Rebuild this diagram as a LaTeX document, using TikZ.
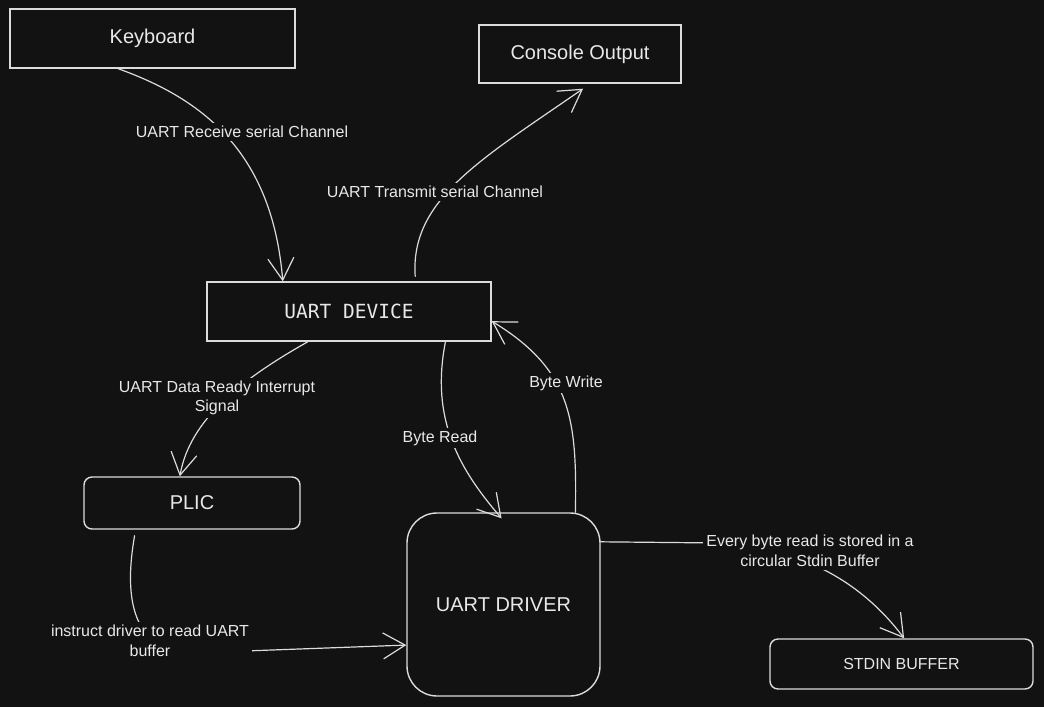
\documentclass[tikz,border=0pt]{standalone}
\usepackage{fontspec}
\setmainfont{Liberation Sans}
\newfontfamily\monofont{DejaVu Sans Mono}
\usetikzlibrary{arrows.meta,calc}
\definecolor{bg}{HTML}{121212}
\definecolor{ink}{HTML}{DCDCDC}
\definecolor{txt}{HTML}{E8E8E8}
\begin{document}
\begin{tikzpicture}[x=1pt,y=-1pt,
  box/.style={draw=ink, line width=1.4pt, fill=bg, text=txt, inner sep=0pt},
  rbox/.style={box, rounded corners=8pt},
  lbl/.style={fill=bg, text=txt, font=\fontsize{16}{19.5}\selectfont, align=center, inner sep=3pt},
  conn/.style={draw=ink, line width=1.2pt, line cap=round},
  arr/.style={conn, -{Straight Barb[length=22pt,width=26pt,line width=1.2pt]}}
]
\fill[bg] (0,0) rectangle (1044,707);
\useasboundingbox (0,0) rectangle (1044,707);

% nodes
\node[box, minimum width=285, minimum height=59, font=\fontsize{20}{24}\selectfont] (kb) at (152.5,38.5) {Keyboard};
\node[box, minimum width=202, minimum height=58, font=\fontsize{20}{24}\selectfont] (con) at (580,54) {Console Output};
\node[box, minimum width=284, minimum height=59, font=\monofont\fontsize{19.5}{24}\selectfont] (dev) at (349,311.5) {UART DEVICE};
\node[rbox, minimum width=216, minimum height=52, font=\fontsize{20}{24}\selectfont] (plic) at (192,503) {PLIC};
\node[box, rounded corners=30pt, minimum width=193, minimum height=183, font=\fontsize{20}{24}\selectfont] (drv) at (503.5,604.5) {UART DRIVER};
\node[rbox, minimum width=263, minimum height=50, font=\fontsize{16}{20}\selectfont] (sb) at (901.5,664) {STDIN BUFFER};

% connector end points
\coordinate (a1) at ($(kb.south west)!0.38!(kb.south east)$);
\coordinate (b1) at ($(dev.north west)!0.268!(dev.north east)$);
\coordinate (a2) at ($(dev.north west)!0.732!(dev.north east)+(0,-5)$);
\coordinate (b2) at ($(con.south west)!0.515!(con.south east)+(0,5)$);
\coordinate (a3) at ($(dev.south west)!0.356!(dev.south east)$);
\coordinate (b3) at ($(plic.north west)!0.444!(plic.north east)$);
\coordinate (a4) at ($(dev.south west)!0.838!(dev.south east)$);
\coordinate (b4) at ($(drv.north west)!0.49!(drv.north east)+(0,6)$);
\coordinate (a5) at ($(drv.north west)!0.87!(drv.north east)$);
\coordinate (b5) at ($(dev.north east)!0.66!(dev.south east)$);
\coordinate (a6) at ($(plic.south west)!0.236!(plic.south east)+(0,6)$);
\coordinate (b6) at ($(drv.north west)!0.72!(drv.south west)$);
\coordinate (a7) at ($(drv.north east)!0.16!(drv.south east)$);
\coordinate (b7) at ($(sb.north west)!0.51!(sb.north east)$);

% connectors
\draw[arr] (a1) .. controls (200,98) and (272,150) .. (b1);
\draw[arr] (a2) .. controls (410,200) and (480,160) .. (b2);
\draw[arr] (a3) .. controls (240,380) and (190,420) .. (b3);
\draw[arr] (a4) .. controls (430,420) and (460,470) .. (b4);
\draw[arr] (a5) .. controls (577,420) and (572,370) .. (b5);
\draw[arr] (a6) .. controls (125,590) and (128,650) .. (190,653) -- (b6);
\draw[arr] (a7) -- (720,543) .. controls (800,548) and (860,580) .. (b7);

% labels
\node[lbl] (l1) at (242,132) {UART Receive serial Channel};
\node[lbl] (l2) at (435,192) {UART Transmit serial Channel};
\node[lbl] (l3) at (217,398) {UART Data Ready Interrupt\\Signal};
\node[lbl] (l4) at (440,438) {Byte Read};
\node[lbl] (l5) at (566,383) {Byte Write};
\node[lbl] (l6) at (150,641) {instruct driver to read UART\\buffer};
\node[lbl] (l7) at (810,551) {Every byte read is stored in a\\circular Stdin Buffer};
\end{tikzpicture}
\end{document}
